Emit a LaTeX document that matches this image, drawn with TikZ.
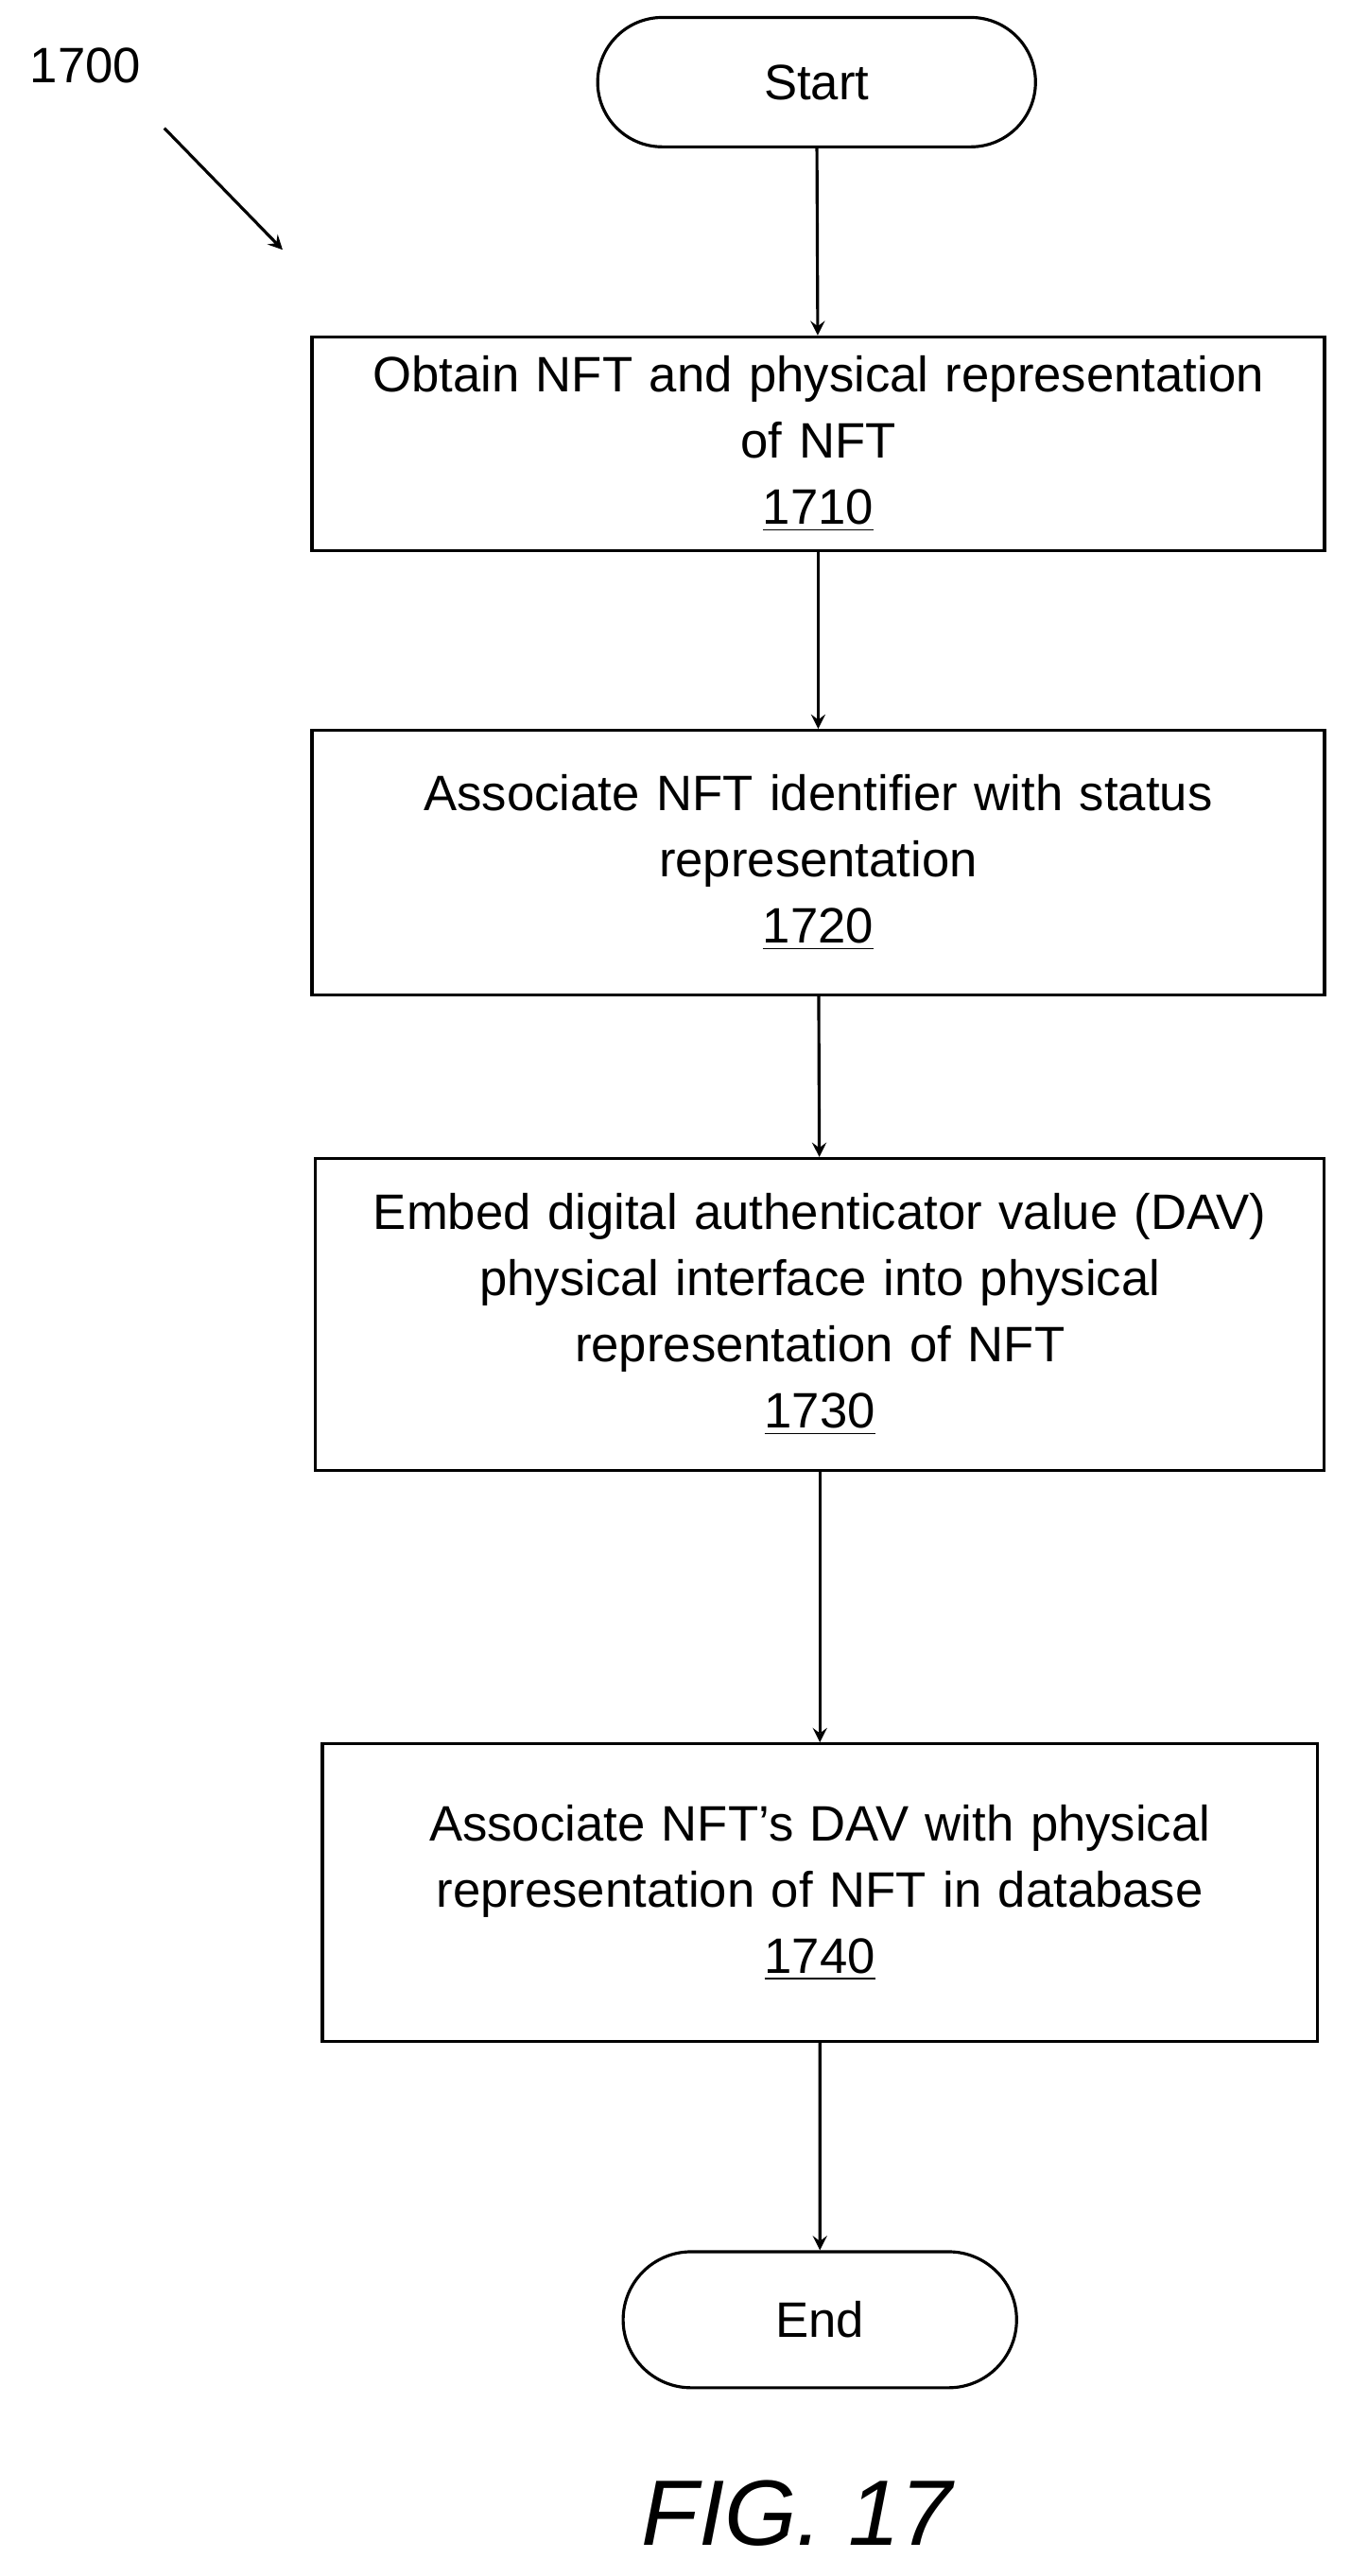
\documentclass[tikz,border=0pt]{standalone}
\usepackage{fontspec}
\setmainfont{Liberation Sans}
\usetikzlibrary{shapes.misc}
\begin{document}
\begin{tikzpicture}[
      x=0.0174cm, y=-0.0174cm,
      every node/.style={font=\fontsize{15}{20}\selectfont},
      procbox/.style={rectangle, draw, line width=0.9pt, align=center, text width=10.3cm},
      term/.style={rounded rectangle, draw, line width=0.9pt, minimum height=1.37cm},
      flow/.style={->, >=stealth, line width=0.9pt}
    ]
      \useasboundingbox (0,0) rectangle (822,1568);

      \node[term, minimum width=4.87cm] (start) at (497,50) {Start};
      \node[procbox, minimum width=10.72cm, minimum height=2.26cm] (s1710) at (498,270)
        {Obtain NFT and physical representation\\of NFT\\\underline{1710}};
      \node[procbox, minimum width=10.72cm, minimum height=2.8cm] (s1720) at (498,525)
        {Associate NFT identifier with status\\representation\\\underline{1720}};
      \node[procbox, minimum width=10.68cm, minimum height=3.3cm] (s1730) at (499,800)
        {Embed digital authenticator value (DAV)\\physical interface into physical\\representation of NFT\\\underline{1730}};
      \node[procbox, minimum width=10.5cm, minimum height=3.15cm] (s1740) at (499,1152)
        {Associate NFT's DAV with physical\\representation of NFT in database\\\underline{1740}};
      \node[term, minimum width=4.4cm, minimum height=1.44cm] (end) at (499,1412) {End};

      \draw[flow] (start) -- (s1710);
      \draw[flow] (s1710) -- (s1720);
      \draw[flow] (s1720) -- (s1730);
      \draw[flow] (s1730) -- (s1740);
      \draw[flow] (s1740) -- (end);

      % figure label
      \node (figref) at (52,40) {1700};
      \coordinate (figtip) at (172,152);
      \draw[flow] (100,78) -- (figtip);
      \node[font=\fontsize{28}{32}\selectfont\itshape] (caption) at (485,1530) {FIG. 17};
\end{tikzpicture}
\end{document}
